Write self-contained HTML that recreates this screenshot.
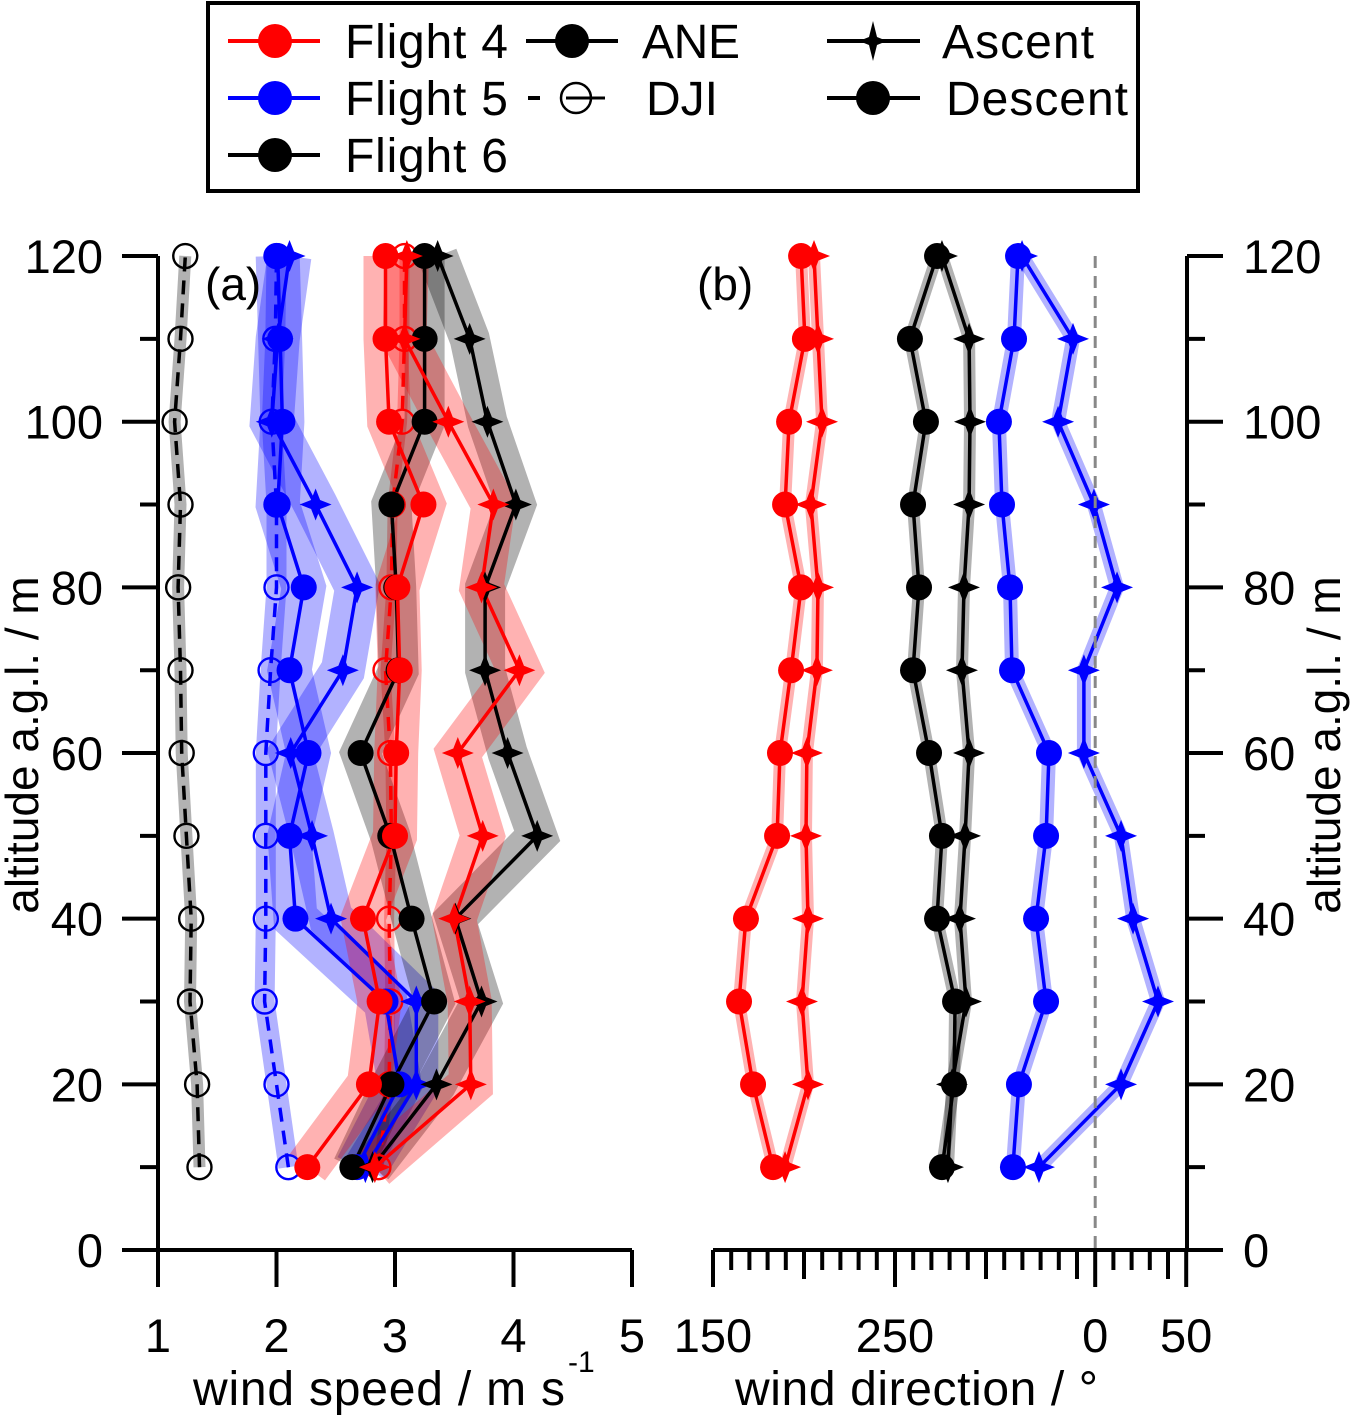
<!DOCTYPE html>
<html><head><meta charset="utf-8"><style>
body{margin:0;background:#fff;}
svg{display:block;font-family:"Liberation Sans",sans-serif;}
</style></head><body>
<svg id="chart" width="1350" height="1416" viewBox="0 0 1350 1416">
<g id="legend">
<rect x="208" y="3" width="930" height="188" fill="#fff" stroke="#000" stroke-width="4"/>
<g><line x1="228" y1="41" x2="320" y2="41" stroke="#f00" stroke-width="4"/><circle cx="275" cy="41" r="17" fill="#f00"/><text x="345" y="58" font-size="48" textLength="163">Flight 4</text></g>
<g><line x1="228" y1="98" x2="320" y2="98" stroke="#00f" stroke-width="4"/><circle cx="275" cy="98" r="17" fill="#00f"/><text x="345" y="115" font-size="48" textLength="163">Flight 5</text></g>
<g><line x1="228" y1="155" x2="320" y2="155" stroke="#000" stroke-width="4"/><circle cx="275" cy="155" r="17" fill="#000"/><text x="345" y="172" font-size="48" textLength="163">Flight 6</text></g>
<g><line x1="526" y1="41" x2="618" y2="41" stroke="#000" stroke-width="4"/><circle cx="572" cy="41" r="17" fill="#000"/><text x="642" y="58" font-size="48" textLength="98">ANE</text></g>
<g><line x1="528" y1="98" x2="540" y2="98" stroke="#000" stroke-width="4"/><circle cx="576" cy="98" r="15" fill="#fff" stroke="#000" stroke-width="2.5"/><line x1="566" y1="98" x2="605" y2="98" stroke="#000" stroke-width="3"/><text x="646" y="115" font-size="48">DJI</text></g>
<g><line x1="827" y1="41" x2="920" y2="41" stroke="#000" stroke-width="4"/><path d="M873,21 L877,37 L887,41 L877,45 L873,61 L869,45 L859,41 L869,37Z" fill="#000"/><text x="942" y="58" font-size="48" textLength="152">Ascent</text></g>
<g><line x1="827" y1="98" x2="920" y2="98" stroke="#000" stroke-width="4"/><circle cx="873" cy="98" r="17" fill="#000"/><text x="946" y="115" font-size="48" textLength="182">Descent</text></g>
</g>
<g id="bands"></g><g id="lines"></g><g id="marks"></g><g id="axes"></g>
<text x="205" y="300" font-size="46">(a)</text>
<text x="697" y="300" font-size="46">(b)</text>
<text x="193" y="1405" font-size="48" textLength="372">wind speed / m s</text>
<text x="568" y="1372" font-size="30">-1</text>
<text x="735" y="1405" font-size="48" textLength="363">wind direction / °</text>
<text transform="translate(38,745) rotate(-90)" font-size="46" text-anchor="middle">altitude a.g.l. / m</text>
<text transform="translate(1340,745) rotate(-90)" font-size="46" text-anchor="middle">altitude a.g.l. / m</text>
</svg>
<script>
const NS='http://www.w3.org/2000/svg';
const altitudes=[10,20,30,40,50,60,70,80,90,100,110,120];
// panel (a) wind speed, m/s
const speedF4Desc=[2.26,2.78,2.87,2.73,3.0,3.01,3.04,3.02,3.24,2.95,2.92,2.92];
const speedF4Asc=[2.83,3.64,3.63,3.5,3.74,3.53,4.05,3.73,3.83,3.45,3.08,3.1];
const speedF5Desc=[2.68,3.04,2.92,2.16,2.11,2.27,2.11,2.23,2.01,2.05,2.03,2.01];
const speedF5Asc=[2.75,3.18,3.18,2.46,2.3,2.12,2.56,2.68,2.33,1.96,2.01,2.11];
const speedF6Desc=[2.64,2.97,3.33,3.14,2.96,2.71,3.03,3.01,2.97,3.25,3.25,3.25];
const speedF6Asc=[2.81,3.35,3.73,3.51,4.2,3.95,3.76,3.76,4.02,3.78,3.63,3.36];
const speedF4Dji=[2.86,2.95,2.96,2.95,2.97,2.96,2.92,2.97,2.98,3.06,3.08,3.08];
const speedF5Dji=[2.1,2.0,1.9,1.91,1.91,1.91,1.95,2.0,2.0,1.96,1.99,2.0];
const speedF6Dji=[1.35,1.33,1.27,1.28,1.24,1.2,1.19,1.17,1.19,1.14,1.19,1.23];
// panel (b) wind direction, degrees (values >360 wrap past north)
const dirF4Desc=[183.0,172.0,164.3,168.1,185.2,186.8,192.9,198.4,189.6,191.8,200.5,198.4];
const dirF4Asc=[189.6,202.2,198.9,202.2,201.1,201.6,207.1,207.7,203.8,209.9,207.7,205.5];
const dirF6Desc=[275.8,282.4,283.0,273.1,275.8,268.7,259.9,263.2,259.9,267.0,258.2,273.1];
const dirF6Asc=[279.1,281.3,289.0,285.7,288.5,290.7,286.8,287.9,290.7,291.2,290.7,275.8];
const dirF5Desc=[314.8,318.1,333.0,327.5,333.0,334.6,314.3,313.2,308.8,307.1,315.4,317.6];
const dirF5Asc=[329.1,374.2,394.5,380.8,374.2,353.8,353.8,372.0,359.3,339.6,347.8,319.8];
const speedTicks=[1,2,3,4,5];
const dirTicks=[150,250,360,410];
const dirTickLabels=['150','250','0','50'];
const altTicks=[0,20,40,60,80,100,120];

const yA=a=>1250-a*8.283;
const xS=v=>158+(v-1)*118.5;
const xD=d=>713+(d-150)*1.82;
const gB=document.getElementById('bands'),gL=document.getElementById('lines'),gM=document.getElementById('marks'),gX=document.getElementById('axes');
function mk(tag,attrs,parent){const e=document.createElementNS(NS,tag);for(const k in attrs)e.setAttribute(k,attrs[k]);parent.appendChild(e);return e;}
function pts(vals,xf){return vals.map((v,i)=>xf(v).toFixed(1)+','+yA(altitudes[i]).toFixed(1)).join(' ');}
function series(name,vals,xf,color,band,bw,marker,dash){
  const b=mk('polyline',{points:pts(vals,xf),fill:'none',stroke:band,'stroke-width':bw,'stroke-linejoin':'miter','stroke-miterlimit':3},gB);
  
  
  const l=mk('polyline',{points:pts(vals,xf),fill:'none',stroke:color,'stroke-width':3.5},gL);
  if(dash)l.setAttribute('stroke-dasharray','14,9');
  
  
  vals.forEach((v,i)=>{
    const x=xf(v),y=yA(altitudes[i]);let m;
    if(marker==='circle')m=mk('circle',{cx:x,cy:y,r:13,fill:color},gM);
    else if(marker==='open')m=mk('circle',{cx:x,cy:y,r:12,fill:'none',stroke:color,'stroke-width':2.4},gM);
    else m=mk('path',{d:`M${x},${y-16}L${x+4.5},${y-4.5}L${x+16},${y}L${x+4.5},${y+4.5}L${x},${y+16}L${x-4.5},${y+4.5}L${x-16},${y}L${x-4.5},${y-4.5}Z`,fill:color},gM);
    
    
  });
}
const R='#ff0000',B='#0000ff',K='#000000',RB='rgba(255,0,0,0.3)',BB='rgba(0,0,255,0.3)',KB='rgba(0,0,0,0.3)';
series('flight6-dji-speed',speedF6Dji,xS,K,KB,12,'open',true);
series('flight5-dji-speed',speedF5Dji,xS,B,BB,20,'open',true);
series('flight4-dji-speed',speedF4Dji,xS,R,RB,10,'open',true);
series('flight5-asc-speed',speedF5Asc,xS,B,BB,44,'star');
series('flight5-desc-speed',speedF5Desc,xS,B,BB,44,'circle');
series('flight6-asc-speed',speedF6Asc,xS,K,KB,40,'star');
series('flight6-desc-speed',speedF6Desc,xS,K,KB,40,'circle');
series('flight4-asc-speed',speedF4Asc,xS,R,RB,44,'star');
series('flight4-desc-speed',speedF4Desc,xS,R,RB,44,'circle');
series('flight4-asc-dir',dirF4Asc,xD,R,RB,12,'star');
series('flight4-desc-dir',dirF4Desc,xD,R,RB,12,'circle');
series('flight6-asc-dir',dirF6Asc,xD,K,KB,12,'star');
series('flight6-desc-dir',dirF6Desc,xD,K,KB,12,'circle');
series('flight5-asc-dir',dirF5Asc,xD,B,BB,14,'star');
series('flight5-desc-dir',dirF5Desc,xD,B,BB,14,'circle');

const north=mk('line',{x1:xD(360),y1:yA(120),x2:xD(360),y2:1250,stroke:'#888','stroke-width':3,'stroke-dasharray':'12,8'},gX);


const ax=mk('path',{d:'M158,256V1250H632M713,1250H1187V256',fill:'none',stroke:'#000','stroke-width':4},gX);


for(let a=0;a<=120;a+=10){
  const big=a%20===0,y=yA(a);
  mk('line',{x1:big?122:140,y1:y,x2:158,y2:y,stroke:'#000','stroke-width':4},gX);
  mk('line',{x1:1187,y1:y,x2:big?1223:1205,y2:y,stroke:'#000','stroke-width':4},gX);
}
altTicks.forEach(a=>{
  const t1=mk('text',{x:103,y:yA(a)+17,'font-size':47,'text-anchor':'end'},gX);t1.textContent=a;
  
  
  const t2=mk('text',{x:1243,y:yA(a)+17,'font-size':47},gX);t2.textContent=a;
  
  
});
speedTicks.forEach(v=>{
  mk('line',{x1:xS(v),y1:1250,x2:xS(v),y2:1287,stroke:'#000','stroke-width':4},gX);
  const t=mk('text',{x:xS(v),y:1352,'font-size':47,'text-anchor':'middle'},gX);t.textContent=v;
  
  
});
for(let d=150;d<=410;d+=10){
  const len=(d===150||d===250||d===360||d===410)?37:(d%50===0?29:20);
  mk('line',{x1:xD(d),y1:1250,x2:xD(d),y2:1250+len,stroke:'#000','stroke-width':4},gX);
}
dirTicks.forEach((d,i)=>{
  const t=mk('text',{x:xD(d),y:1352,'font-size':47,'text-anchor':'middle'},gX);t.textContent=dirTickLabels[i];
  
  
});
</script>
</body></html>
